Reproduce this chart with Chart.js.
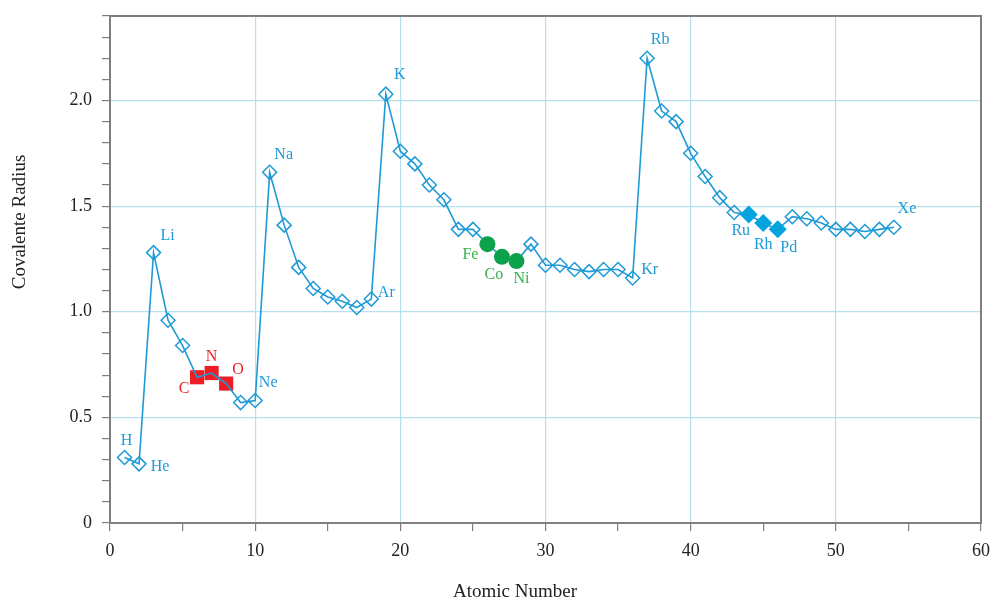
<!DOCTYPE html>
<html>
<head>
<meta charset="utf-8">
<title>Covalente Radius</title>
<script src="https://cdn.jsdelivr.net/npm/chart.js@4/dist/chart.umd.min.js"></script>
<style>
  body { margin: 0; background: #fff; }
  #wrap { width: 994px; height: 601px; }
</style>
</head>
<body>
<div id="wrap"><canvas id="radiusChart" width="994" height="601"></canvas></div>
<script>
// atomic numbers 1..54 and their covalent radii
const atomicNumbers = [1, 2, 3, 4, 5, 6, 7, 8, 9, 10,
    11, 12, 13, 14, 15, 16, 17, 18, 19, 20,
    21, 22, 23, 24, 25, 26, 27, 28, 29, 30,
    31, 32, 33, 34, 35, 36, 37, 38, 39, 40,
    41, 42, 43, 44, 45, 46, 47, 48, 49, 50,
    51, 52, 53, 54];
const radii = [0.31, 0.28, 1.28, 0.96, 0.84, 0.69, 0.71, 0.66, 0.57, 0.58,
    1.66, 1.41, 1.21, 1.11, 1.07, 1.05, 1.02, 1.06, 2.03, 1.76,
    1.70, 1.60, 1.53, 1.39, 1.39, 1.32, 1.26, 1.24, 1.32, 1.22,
    1.22, 1.20, 1.19, 1.20, 1.20, 1.16, 2.20, 1.95, 1.90, 1.75,
    1.64, 1.54, 1.47, 1.46, 1.42, 1.39, 1.45, 1.44, 1.42, 1.39,
    1.39, 1.38, 1.39, 1.40];

// labelled elements
const labelNumbers = [1, 2, 3, 6, 7, 8, 10, 11, 18, 19, 26, 27, 28, 36, 37, 44, 45, 46, 54];
const labelSymbols = ['H', 'He', 'Li', 'C', 'N', 'O', 'Ne', 'Na', 'Ar', 'K', 'Fe', 'Co', 'Ni', 'Kr', 'Rb', 'Ru', 'Rh', 'Pd', 'Xe'];

// highlighted groups
const redGroup = [6, 7, 8];
const greenGroup = [26, 27, 28];
const blueGroup = [44, 45, 46];

const xTicks = [0, 10, 20, 30, 40, 50, 60];
const yTicks = [0, 0.5, 1.0, 1.5, 2.0];

const BLUE = '#1e9ad6';
const RED = '#ee1c25';
const GREEN = '#0ba24b';
const GREEN_TEXT = '#36b34a';
const GRID = '#b6dff2';
const AXIS = '#7f7f7f';
const SERIF = '"Liberation Serif", "Times New Roman", serif';

// label offsets in pixels from the point (dx, dy)
const labelOffsets = {
    H: [2, -17], He: [21, 3], Li: [14, -17], C: [-13, 12], N: [0, -16], O: [12, -14],
    Ne: [13, -18], Na: [14, -18], Ar: [15, -6], K: [14, -19], Fe: [-17, 11], Co: [-8, 18],
    Ni: [5, 18], Kr: [17, -8], Rb: [13, -18], Ru: [-8, 16], Rh: [0, 22], Pd: [11, 18], Xe: [13, -18]
};

function pointsFor(group) {
    return group.map(n => ({ x: n, y: radii[atomicNumbers.indexOf(n)] }));
}

function labelColor(n) {
    if (redGroup.includes(n)) return RED;
    if (greenGroup.includes(n)) return GREEN_TEXT;
    return BLUE;
}

const highlighted = redGroup.concat(greenGroup, blueGroup);

// draws element symbols, the plot frame and the axis titles
const extrasPlugin = {
    id: 'extras',
    afterDatasetsDraw(chart) {
        const { ctx, scales } = chart;
        ctx.save();
        ctx.font = '16px ' + SERIF;
        ctx.textAlign = 'center';
        ctx.textBaseline = 'middle';
        labelNumbers.forEach((n, i) => {
            const sym = labelSymbols[i];
            const off = labelOffsets[sym];
            const px = scales.x.getPixelForValue(n);
            const py = scales.y.getPixelForValue(radii[atomicNumbers.indexOf(n)]);
            ctx.fillStyle = labelColor(n);
            ctx.fillText(sym, px + off[0], py + off[1]);
        });
        ctx.restore();
    },
    afterDraw(chart) {
        const { ctx, chartArea } = chart;
        ctx.save();
        ctx.strokeStyle = AXIS;
        ctx.lineWidth = 2;
        ctx.strokeRect(chartArea.left, chartArea.top, chartArea.right - chartArea.left, chartArea.bottom - chartArea.top);

        ctx.fillStyle = '#222';
        ctx.font = '19px ' + SERIF;
        ctx.textAlign = 'center';
        ctx.textBaseline = 'middle';
        ctx.fillText('Atomic Number', 515, 592);
        ctx.translate(20, 222);
        ctx.rotate(-Math.PI / 2);
        ctx.fillText('Covalente Radius', 0, 0);
        ctx.restore();
    }
};

const ctx = document.getElementById('radiusChart').getContext('2d');
new Chart(ctx, {
    type: 'line',
    data: {
        datasets: [
            {
                label: 'Covalent radius',
                data: atomicNumbers.map((n, i) => ({ x: n, y: radii[i] })),
                borderColor: BLUE,
                borderWidth: 1.6,
                backgroundColor: '#fff',
                pointStyle: 'rectRot',
                pointRadius: c => highlighted.includes(c.raw.x) ? 0 : 7,
                pointBorderWidth: 1.5,
                pointBorderColor: BLUE,
                pointBackgroundColor: 'rgba(255,255,255,0)',
                tension: 0,
                order: 2
            },
            {
                label: 'C N O',
                data: pointsFor(redGroup),
                showLine: false,
                pointStyle: 'rect',
                pointRadius: 10,
                pointBorderWidth: 0,
                pointBackgroundColor: RED,
                pointBorderColor: RED,
                order: 3
            },
            {
                label: 'Fe Co Ni',
                data: pointsFor(greenGroup),
                showLine: false,
                pointStyle: 'circle',
                pointRadius: 8,
                pointBorderWidth: 0,
                pointBackgroundColor: GREEN,
                pointBorderColor: GREEN,
                order: 1
            },
            {
                label: 'Ru Rh Pd',
                data: pointsFor(blueGroup),
                showLine: false,
                pointStyle: 'rectRot',
                pointRadius: 9,
                pointBorderWidth: 0,
                pointBackgroundColor: '#05a2e0',
                pointBorderColor: '#05a2e0',
                order: 1
            }
        ]
    },
    options: {
        responsive: false,
        animation: false,
        layout: { padding: { left: 0, top: 16, right: 13, bottom: 0 } },
        plugins: {
            legend: { display: false },
            tooltip: { enabled: false }
        },
        scales: {
            x: {
                type: 'linear',
                min: xTicks[0],
                max: xTicks[xTicks.length - 1],
                afterFit: s => { s.height = 78; s.paddingLeft = 0; s.paddingRight = 0; },
                ticks: {
                    stepSize: 5,
                    autoSkip: false,
                    maxRotation: 0,
                    padding: 9,
                    color: '#222',
                    font: { family: SERIF, size: 18 },
                    callback: v => xTicks.includes(v) ? String(v) : ''
                },
                grid: {
                    color: c => (c.tick && xTicks.includes(c.tick.value) && c.tick.value !== 0 && c.tick.value !== 60) ? GRID : 'rgba(0,0,0,0)',
                    tickColor: AXIS,
                    tickLength: 8,
                    lineWidth: 1.2
                },
                border: { display: true, color: AXIS, width: 2 }
            },
            y: {
                type: 'linear',
                min: 0,
                max: 2.4,
                afterFit: s => { s.width = 110; s.paddingTop = 0; s.paddingBottom = 0; },
                ticks: {
                    stepSize: 0.1,
                    autoSkip: false,
                    padding: 10,
                    color: '#222',
                    font: { family: SERIF, size: 18 },
                    callback: v => {
                        const t = Math.round(v * 10) / 10;
                        if (!yTicks.includes(t)) return '';
                        return t === 0 ? '0' : t.toFixed(1);
                    }
                },
                grid: {
                    color: c => {
                        if (!c.tick) return 'rgba(0,0,0,0)';
                        const t = Math.round(c.tick.value * 10) / 10;
                        return (yTicks.includes(t) && t !== 0) ? GRID : 'rgba(0,0,0,0)';
                    },
                    tickColor: AXIS,
                    tickLength: 8,
                    lineWidth: 1.2
                },
                border: { display: true, color: AXIS, width: 2 }
            }
        }
    },
    plugins: [extrasPlugin]
});
</script>
</body>
</html>
